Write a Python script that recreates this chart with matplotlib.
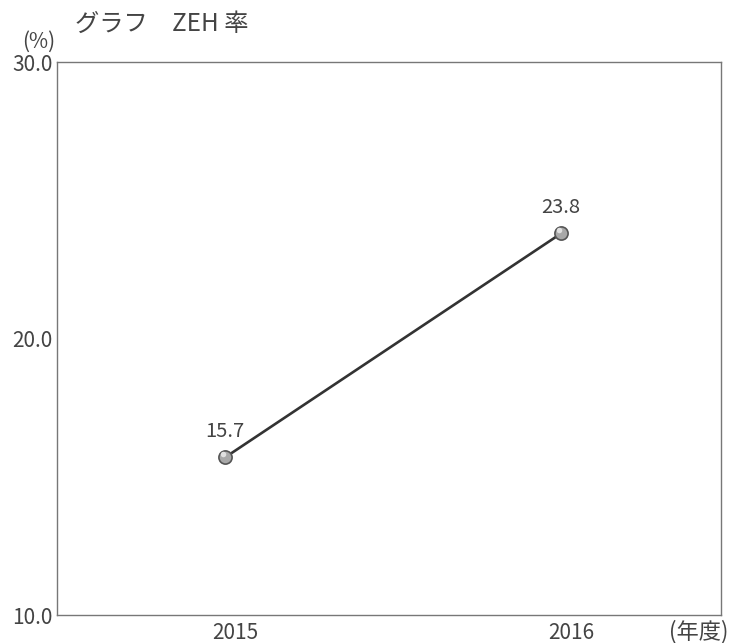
import matplotlib.pyplot as plt
from matplotlib.transforms import ScaledTranslation

plt.rcParams['font.family'] = ['Noto Sans CJK JP', 'DejaVu Sans']

# data
years = ['2015', '2016']
zeh_rate = [15.7, 23.8]
y_ticks = [10.0, 20.0, 30.0]

fig = plt.figure(figsize=(7.31, 6.43), dpi=100)
ax = fig.add_axes([0.078, 0.0435, 0.9083, 0.860])

x = list(range(len(years)))
ax.plot(x, zeh_rate, color='#333333', linewidth=1.9, zorder=2)
ax.plot(x, zeh_rate, linestyle='none', marker='o', markersize=9.5,
        markerfacecolor='#a8a8a8', markeredgecolor='#555555', markeredgewidth=1.2, zorder=3)
# small highlight on the markers
ax.plot([i - 0.006 for i in x], [v + 0.12 for v in zeh_rate], linestyle='none', marker='o',
        markersize=4, markerfacecolor='#e0e0e0', markeredgecolor='none', zorder=4)

for xi, v in zip(x, zeh_rate):
    ax.text(xi, v + 0.55, f'{v:.1f}', ha='center', va='bottom', fontsize=14.5, color='#444444')

ax.set_xlim(-0.5, 1.476)
ax.set_ylim(10, 30)
ax.set_xticks(x)
ax.set_xticklabels(years, fontsize=15, color='#444444')
ax.set_yticks(y_ticks)
ax.set_yticklabels([f'{t:.1f}' for t in y_ticks], fontsize=15, color='#444444')
ax.tick_params(length=0, pad=3)
ax.tick_params(axis='x', pad=5)
# year labels sit a bit right of the points in the original
for lab in ax.get_xticklabels():
    lab.set_transform(lab.get_transform() + ScaledTranslation(0.1, 0, fig.dpi_scale_trans))
for s in ax.spines.values():
    s.set_color('#777777')
    s.set_linewidth(1.0)

fig.text(0.053, 0.935, '(%)', fontsize=15, color='#444444', ha='center', va='center')
fig.text(0.102, 0.963, 'グラフ　ZEH 率', fontsize=17.5, color='#444444', ha='left', va='center')
fig.text(0.996, 0.017, '(年度)', fontsize=16, color='#444444', ha='right', va='center')

fig.savefig('out.png', dpi=100)
